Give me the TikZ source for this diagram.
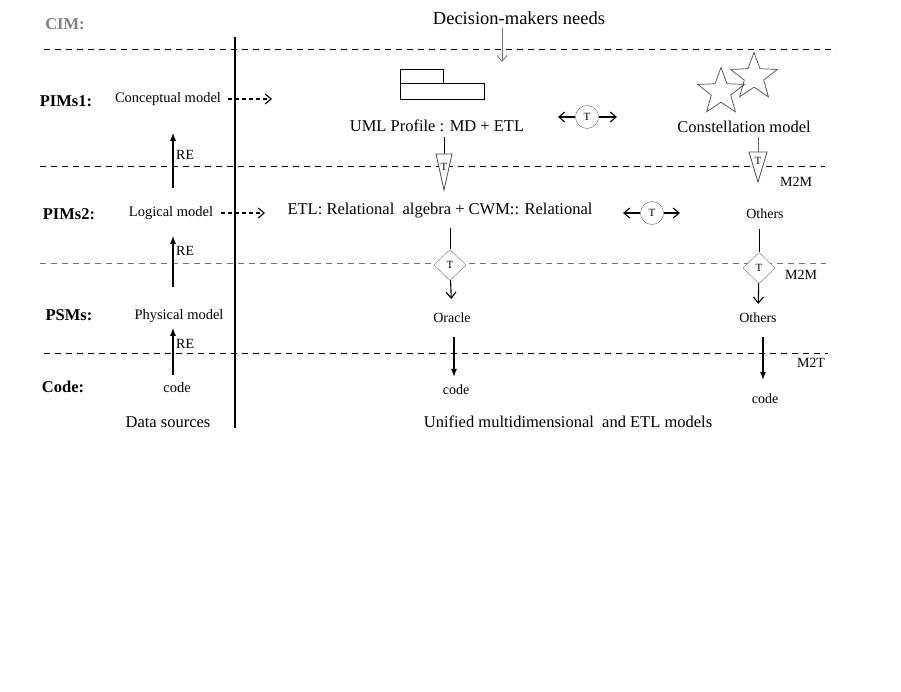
\documentclass[tikz,border=0pt]{standalone}
\usepackage{fontspec}
\setmainfont{Liberation Serif}
\usetikzlibrary{arrows.meta,shapes.geometric,calc}

\newcommand{\setfs}[1]{\fontsize{#1}{#1}\selectfont}

\tikzset{
  layer/.style={font=\setfs{16.5}\bfseries, inner sep=1pt},
  srcmodel/.style={font=\setfs{14.5}, inner sep=1pt},
  dwmodel/.style={font=\setfs{16.5}, inner sep=1pt},
  small/.style={font=\setfs{14}, inner sep=1pt},
  sepline/.style={dash pattern=on 6pt off 5pt, line width=0.9pt},
  re/.style={line width=1.2pt, -{Latex[length=8pt,width=6pt]}},
  openarrow/.style={line width=1.1pt, -{Straight Barb[length=6pt,width=10pt]}},
  dasharrow/.style={openarrow, dash pattern=on 4pt off 3pt},
  trans/.style={circle, draw=black!60, fill=white, minimum size=23pt, inner sep=0pt, font=\setfs{11}},
  tdiamond/.style={diamond, draw=black!55, fill=white, minimum width=32pt, minimum height=31pt, inner sep=0pt, font=\setfs{11}},
  tri/.style={draw=black!70, fill=white, line width=0.8pt},
  starnode/.style={star, star points=5, star point ratio=2.4, draw=black!70, line width=0.7pt, minimum size=49pt, inner sep=0pt},
}

\begin{document}
\begin{tikzpicture}[x=1pt,y=-1pt]
 \useasboundingbox (0,0) rectangle (901,692);
 % layer separators
 \draw[sepline] (44,49) -- (836,49);
 \draw[sepline] (40,166) -- (825,166);
 \draw[sepline,black!55] (40,263) -- (826,263);
 \draw[sepline] (44,353) -- (828,353);
 \draw[line width=1.3pt] (235,37) -- (235,428);

 % layer names
 \node[layer,text=black!50] (cim) at (65,24) {CIM:};
 \node[layer] (pims1) at (66,101) {PIMs1:};
 \node[layer] (pims2) at (69,214) {PIMs2:};
 \node[layer] (psms) at (69,315) {PSMs:};
 \node[layer] (codelayer) at (63,387) {Code:};

 % data sources
 \node[srcmodel] (concept) at (168,99) {Conceptual model};
 \node[srcmodel] (logical) at (171,213) {Logical model};
 \node[srcmodel] (physical) at (179,316) {Physical model};
 \node[srcmodel] (srccode) at (177,388) {code};
 \node[dwmodel] (sources) at (168,422) {Data sources};
 \coordinate (reaxis) at (173,0);
 \draw[re, shorten <=7pt, shorten >=4pt] (srccode.north -| reaxis) -- (physical.south -| reaxis);
 \draw[re, shorten <=21pt, shorten >=15pt] (physical.north -| reaxis) -- (logical.south -| reaxis);
 \draw[re, shorten <=17pt, shorten >=26pt] (logical.north -| reaxis) -- (concept.south -| reaxis);
 \node[small, anchor=west] (re1) at (175,155) {RE};
 \node[small, anchor=west] (re2) at (175,251) {RE};
 \node[small, anchor=west] (re3) at (175,344) {RE};
 \coordinate (conceptend) at (272,99);
 \coordinate (logicalend) at (265,213);
 \draw[dasharrow, shorten <=6pt] (concept) -- (conceptend);
 \draw[dasharrow, shorten <=7pt] (logical) -- (logicalend);

 % needs
 \node[font=\setfs{18.5}] (needs) at (519,18) {Decision-makers needs};
 \coordinate (needsend) at (502,62);
 \draw[openarrow, black!55, line width=0.8pt] (needs.south -| needsend) -- (needsend);

 % PIMs1 models
 \draw[line width=0.8pt] (400,69) rectangle (443,83);
 \draw[line width=0.8pt] (400,83) rectangle (484,99);
 \node[dwmodel] (uml) at (437,126) {UML Profile : MD + ETL};
 \node[starnode] (star1) at (721,92) {};
 \node[starnode] (star2) at (754,77) {};
 \node[dwmodel] (constel) at (744,127) {Constellation model};
 \node[trans] (tr1) at (587,117) {T};
 \coordinate (tr1w) at (558,117);
 \coordinate (tr1e) at (617,117);
 \draw[openarrow] (tr1) -- (tr1w);
 \draw[openarrow] (tr1) -- (tr1e);

 % M2M triangles
 \coordinate (tri1) at (444,154);
 \coordinate (tri2) at (758,152);
 \draw[line width=1pt, shorten <=4pt] (uml.south -| tri1) -- (tri1);
 \draw[line width=1pt, black!60, shorten <=3pt] (constel.south -| tri2) -- (tri2);
 \draw[tri] ($(tri1)+(-8,0)$) -- ($(tri1)+(8,0)$) -- ($(tri1)+(0,36)$) -- cycle;
 \draw[tri] ($(tri2)+(-9,0)$) -- ($(tri2)+(9,0)$) -- ($(tri2)+(0,30)$) -- cycle;
 \node[font=\setfs{11}, inner sep=0pt] (t1) at ($(tri1)+(0,13)$) {T};
 \node[font=\setfs{11}, inner sep=0pt] (t2) at ($(tri2)+(0,9)$) {T};
 \node[small] (m2m1) at (796,182) {M2M};

 % PIMs2 models
 \node[dwmodel] (etl) at (440,211) {ETL: Relational\ \ algebra + CWM:: Relational};
 \node[trans] (tr2) at (652,213) {T};
 \coordinate (tr2w) at (623,213);
 \coordinate (tr2e) at (680,213);
 \draw[openarrow] (tr2) -- (tr2w);
 \draw[openarrow] (tr2) -- (tr2e);
 \node[small] (others1) at (765,214) {Others};

 % M2M diamonds
 \node[tdiamond] (dia1) at (450,265) {T};
 \node[tdiamond] (dia2) at (759,268) {T};
 \draw[line width=1pt, shorten <=8pt] (etl.south -| dia1) -- (dia1);
 \draw[line width=1pt, shorten <=9pt] (others1.south -| dia2) -- (dia2);
 \node[small] (m2m2) at (801,275) {M2M};

 % PSMs
 \node[small] (oracle) at (452,318) {Oracle};
 \node[small] (others2) at (758,318) {Others};
 \draw[openarrow, shorten >=13pt] (dia1) -- (oracle);
 \draw[openarrow, shorten >=8pt] (dia2) -- (others2);

 % code
 \node[small] (dwcode1) at (456,390) {code};
 \node[small] (dwcode2) at (765,399) {code};
 \draw[re, shorten <=13pt, shorten >=7pt] ([xshift=2pt]oracle.south) -- ([xshift=-2pt]dwcode1.north);
 \draw[re, shorten <=13pt, shorten >=13pt] ([xshift=5pt]others2.south) -- ([xshift=-2pt]dwcode2.north);
 \node[small] (m2t) at (811,363) {M2T};
 \node[dwmodel] (unified) at (568,422) {Unified multidimensional\ \ and ETL models};
\end{tikzpicture}
\end{document}
